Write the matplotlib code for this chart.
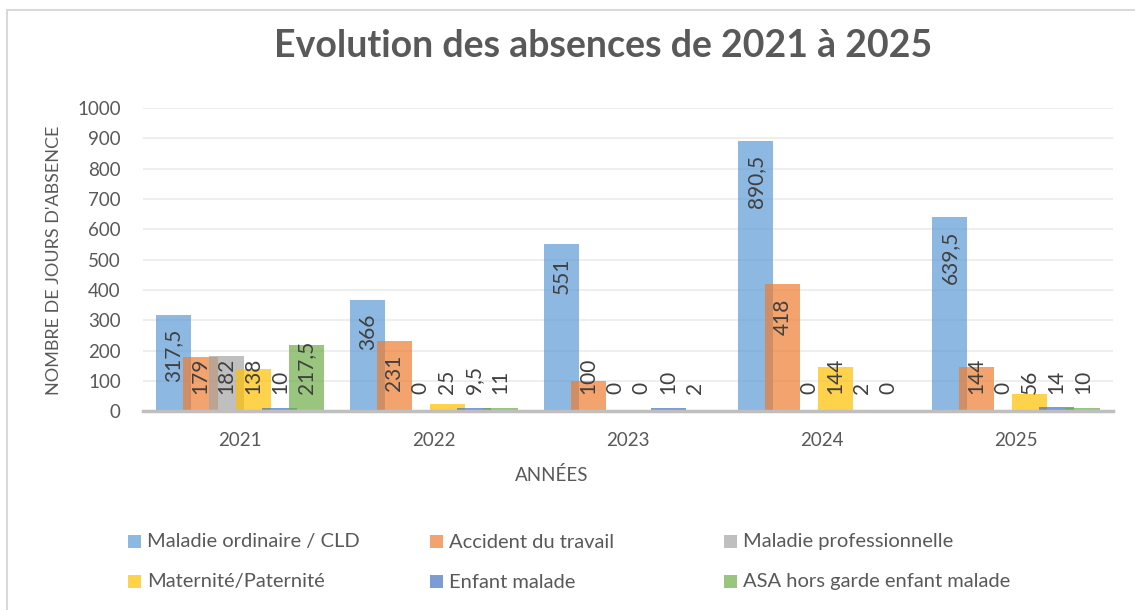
import numpy as np
import matplotlib
matplotlib.use("Agg")
import matplotlib.pyplot as plt
from matplotlib.patches import Rectangle

# data
years = ["2021", "2022", "2023", "2024", "2025"]
series_names = ["Maladie ordinaire / CLD", "Accident du travail", "Maladie professionnelle",
                "Maternité/Paternité", "Enfant malade", "ASA hors garde enfant malade"]
maladie_ordinaire = [317.5, 366, 551, 890.5, 639.5]
accident_travail = [179, 231, 100, 418, 144]
maladie_pro = [182, 0, 0, 0, 0]
maternite = [138, 25, 0, 144, 56]
enfant_malade = [10, 9.5, 10, 2, 14]
asa_hors_garde = [217.5, 11, 2, 0, 10]
yticks = [0, 100, 200, 300, 400, 500, 600, 700, 800, 900, 1000]

all_series = [maladie_ordinaire, accident_travail, maladie_pro, maternite, enfant_malade, asa_hors_garde]
colors = ["#5B9BD5", "#ED7D31", "#A5A5A5", "#FFC000", "#4472C4", "#70AD47"]

plt.rcParams['font.family'] = ['Lato', 'DejaVu Sans']
txt = "#595959"

dpi = 100
fig = plt.figure(figsize=(11.35, 6.10), dpi=dpi)
ax = fig.add_axes([0.126, 0.326, 0.855, 0.497])

x = np.arange(len(years))
width = 0.18
step = 0.137
offsets = (np.arange(6) - 2.5) * step

for i, vals in enumerate(all_series):
    ax.bar(x + offsets[i], vals, width, color=colors[i], alpha=0.7, zorder=2 + i, linewidth=0)

ax.set_xlim(-0.5, len(years) - 0.5)
ax.set_ylim(0, 1000)
ax.set_yticks(yticks)
ax.set_xticks(x)
ax.set_xticklabels(years)
ax.tick_params(axis='both', length=0, labelsize=13.5, labelcolor=txt)
ax.tick_params(axis='x', pad=15)
ax.tick_params(axis='y', pad=16)
ax.grid(axis='y', color="#EBEBEB", linewidth=1.2, zorder=0)
ax.set_axisbelow(True)
for s in ["top", "right", "left"]:
    ax.spines[s].set_visible(False)
ax.spines["bottom"].set_color("#BFBFBF")
ax.spines["bottom"].set_linewidth(2.5)
ax.spines["bottom"].set_zorder(10)

# data labels, inside end, pushed up when the bar is too short
labels = []
for i, vals in enumerate(all_series):
    for j, v in enumerate(vals):
        s = ("%g" % v).replace(".", ",")
        a = ax.annotate(s, xy=(x[j] + offsets[i], v), xytext=(0, -10), textcoords="offset points",
                        rotation=90, ha="center", va="top", fontsize=15, color="#404040", zorder=20)
        labels.append(a)

fig.canvas.draw()
r = fig.canvas.get_renderer()
base = ax.transData.transform((0, 0))[1]
min_gap = 17
for a in labels:
    bb = a.get_window_extent(r)
    if bb.y0 < base + min_gap:
        a.xy = (a.xy[0], 0)
        a.xyann = (0, min_gap * 72 / dpi)
        a.set_va("bottom")

fig.text(0.531, 0.925, "Evolution des absences de 2021 à 2025", ha="center", va="center",
         fontsize=27, fontweight="bold", color=txt)
fig.text(0.048, 0.573, "NOMBRE DE JOURS D'ABSENCE", rotation=90, ha="center", va="center",
         fontsize=13, color=txt)
fig.text(0.486, 0.221, "ANNÉES", ha="center", va="center", fontsize=13.5, color=txt)

# legend, 3 columns x 2 rows
leg_x = [128, 430, 724]
leg_y = [541, 581]
for i, name in enumerate(series_names):
    col, row = i % 3, i // 3
    px, py = leg_x[col], leg_y[row]
    fig.patches.append(Rectangle((px / 1135, 1 - (py + 6.5) / 610), 13 / 1135, 13 / 610,
                                 transform=fig.transFigure, facecolor=colors[i], alpha=0.7,
                                 edgecolor="none"))
    fig.text((px + 19) / 1135, 1 - (py + 1) / 610, name, ha="left", va="center", fontsize=14.5, color=txt)

# chart border
fig.patches.append(Rectangle((7 / 1135, -0.05), 1.1, 1 - 10 / 610 + 0.05, transform=fig.transFigure,
                             fill=False, edgecolor="#D9D9D9", linewidth=1.5))

fig.savefig("out.png", dpi=dpi)
